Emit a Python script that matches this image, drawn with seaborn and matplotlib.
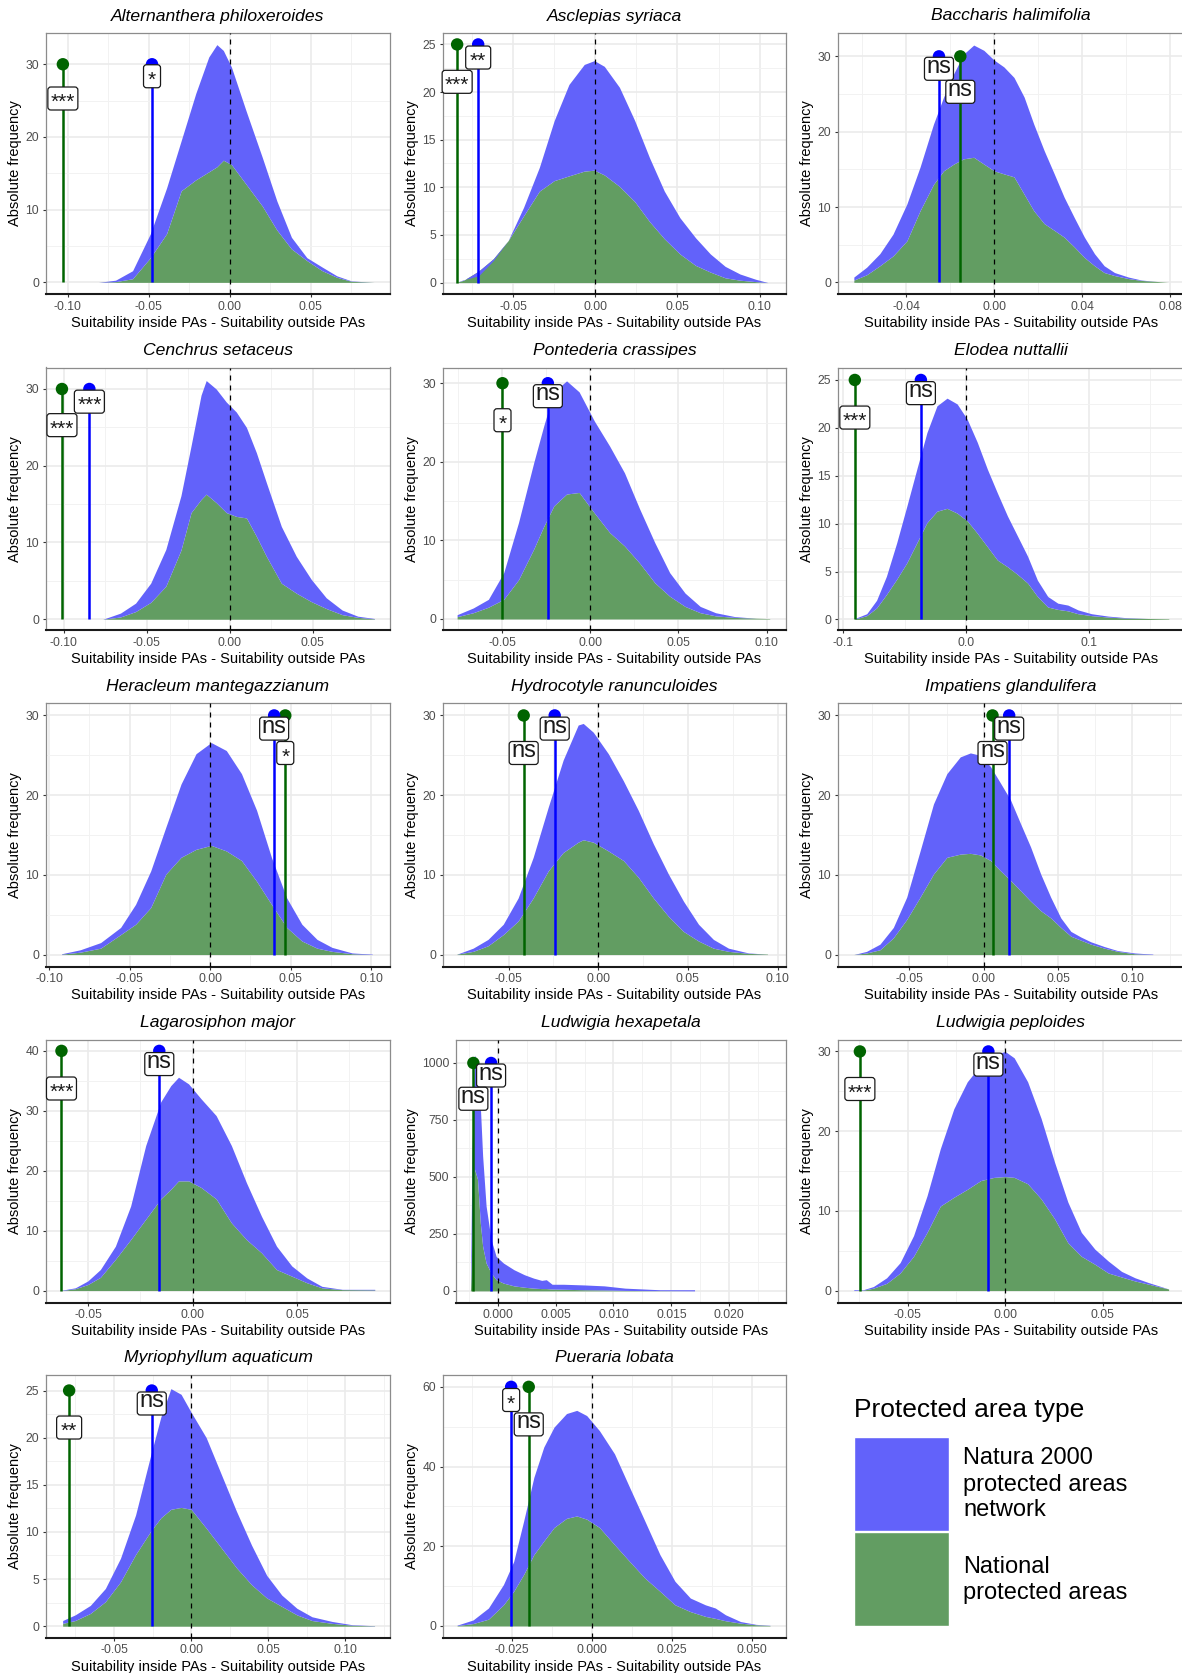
import numpy as np
import pandas as pd
import matplotlib
matplotlib.use("Agg")
import matplotlib.pyplot as plt
import seaborn as sns
from matplotlib.patches import FancyBboxPatch, Rectangle
from matplotlib.transforms import IdentityTransform
from matplotlib.ticker import FixedLocator, MultipleLocator

# ---------------- data ----------------
species = ["Alternanthera philoxeroides", "Asclepias syriaca", "Baccharis halimifolia",
           "Cenchrus setaceus", "Pontederia crassipes", "Elodea nuttallii",
           "Heracleum mantegazzianum", "Hydrocotyle ranunculoides", "Impatiens glandulifera",
           "Lagarosiphon major", "Ludwigia hexapetala", "Ludwigia peploides",
           "Myriophyllum aquaticum", "Pueraria lobata"]

alt_x = [-0.081, -0.0705, -0.060, -0.049, -0.039, -0.030, -0.021, -0.013, -0.008, -0.004, 0.001,
         0.010, 0.020, 0.029, 0.038, 0.0475, 0.057, 0.066, 0.075, 0.089]
alt_total = [0, 0.3, 1.6, 6.7, 13, 19.5, 26, 31, 32.7, 31.9, 29.6, 23.6, 17.2, 11.2, 6.2, 3.4, 2.1, 0.9, 0.2, 0]
alt_nat = [0, 0.1, 0.5, 3.4, 6.7, 12.6, 14.1, 15.2, 15.9, 16.8, 16.2, 13.5, 10.5, 7.2, 4.6, 3.0, 1.6, 0.7, 0.15, 0]

asc_x = [-0.085, -0.080, -0.071, -0.062, -0.053, -0.0436, -0.034, -0.025, -0.016, -0.0067, -0.0006, 0.0055,
         0.0147, 0.024, 0.033, 0.042, 0.0515, 0.061, 0.070, 0.079, 0.088, 0.0975, 0.105]
asc_total = [0, 0.3, 0.7, 2.3, 4.4, 7.9, 12.1, 17, 20.8, 22.9, 23.3, 22.7, 20.5, 17, 13.1, 9.6, 6.8, 4.7, 3,
             1.7, 0.9, 0.35, 0]
asc_nat = [0, 0.25, 1.2, 2.5, 4.4, 7.0, 9.6, 10.7, 11.2, 11.7, 11.8, 11.3, 10.1, 8.5, 6.4, 4.6, 3.0, 1.8, 1.1,
           0.5, 0.25, 0.1, 0]

bac_x = [-0.0638, -0.058, -0.052, -0.046, -0.0397, -0.0337, -0.0276, -0.023, -0.0184, -0.0139, -0.0093, -0.0047,
         0.0, 0.0044, 0.009, 0.0136, 0.018, 0.0227, 0.0273, 0.0318, 0.0364, 0.041, 0.0456, 0.050, 0.0547, 0.061,
         0.067, 0.0745, 0.079]
bac_total = [0.7, 2, 3.8, 6.4, 10.4, 15.3, 21, 24.6, 27.7, 30.3, 31.5, 30.8, 29.5, 28.6, 27.2, 24.6, 21, 17.5,
             14.4, 11.3, 8.6, 6.0, 3.8, 2.2, 1.3, 0.7, 0.3, 0.1, 0]
bac_nat = [0.3, 1, 2.2, 3.5, 5.5, 9.5, 13, 14.8, 15.7, 16.4, 16.6, 15.7, 14.8, 14.4, 14, 11.7, 9.5, 7.8, 6.9,
           6, 4.7, 3.3, 2.2, 1.3, 0.9, 0.5, 0.25, 0.1, 0]

cen_x = [-0.0764, -0.0658, -0.0567, -0.0476, -0.0385, -0.0294, -0.0233, -0.0173, -0.0142, -0.0082, -0.0021,
         0.0039, 0.01, 0.016, 0.022, 0.031, 0.040, 0.049, 0.058, 0.0676, 0.077, 0.087]
cen_total = [0, 0.8, 2.1, 4.7, 9.1, 16.1, 22.6, 29.2, 31.1, 30, 28.3, 27, 25, 21.7, 17.8, 12.1, 8.2, 5.2, 2.8,
             1.2, 0.4, 0.1]
cen_nat = [0, 0.3, 1, 2.2, 4.3, 9, 13.9, 15.6, 16.3, 15.2, 13.9, 13.4, 13.2, 10.8, 8.2, 4.7, 3.4, 2.3, 1.4,
           0.6, 0.25, 0.05]

pon_x = [-0.0754, -0.0663, -0.0577, -0.049, -0.0406, -0.032, -0.0263, -0.0206, -0.0134, -0.0063, 0.0023, 0.011,
         0.0194, 0.028, 0.0366, 0.045, 0.0537, 0.0623, 0.071, 0.082, 0.094, 0.1017]
pon_total = [0.55, 1.4, 2.5, 5.9, 12.3, 19.9, 24.6, 28.9, 30.3, 28.9, 25.2, 22, 18.6, 14, 9.7, 5.9, 3.3, 1.6,
             0.8, 0.3, 0.1, 0.05]
pon_nat = [0.3, 0.8, 1.5, 2.5, 5, 8.9, 11.8, 14.4, 15.9, 16.1, 13.5, 11, 9.3, 7.1, 4.6, 2.9, 1.6, 0.8, 0.4,
           0.2, 0.1, 0.05]

elo_x = [-0.0907, -0.081, -0.073, -0.065, -0.0566, -0.0484, -0.0402, -0.032, -0.0238, -0.0156, -0.0074, 0.0008,
         0.009, 0.0172, 0.0254, 0.0336, 0.0418, 0.05, 0.058, 0.0664, 0.0746, 0.0828, 0.091, 0.102, 0.1156, 0.129,
         0.148, 0.165]
elo_total = [0.1, 0.6, 2, 4.5, 8, 11.8, 15.7, 19.5, 22.3, 23.1, 22.5, 20.9, 18.5, 15.7, 13.2, 10.8, 8.7, 6.6,
             4.1, 2.4, 1.7, 1.5, 1.0, 0.6, 0.35, 0.2, 0.1, 0.05]
elo_nat = [0.05, 0.4, 1.2, 2.6, 4.2, 5.9, 8, 10.1, 11.3, 11.6, 11.1, 10.3, 9, 7.6, 6.2, 5.5, 4.7, 3.8, 2.4,
           1.3, 1.05, 0.9, 0.6, 0.4, 0.25, 0.15, 0.1, 0.05]

her_x = [-0.0922, -0.0806, -0.068, -0.0556, -0.0463, -0.0369, -0.0275, -0.0181, -0.0088, 0.0006, 0.01, 0.0194,
         0.0288, 0.038, 0.0475, 0.0569, 0.0663, 0.0756, 0.0881, 0.1006]
her_total = [0.1, 0.6, 1.5, 3.4, 6.3, 10.5, 16, 21.4, 25.2, 26.6, 25.6, 22.7, 18.1, 12.2, 7.1, 3.8, 1.9, 0.9,
             0.2, 0.05]
her_nat = [0.05, 0.3, 0.8, 2.5, 3.8, 5.9, 10.1, 12.2, 13.2, 13.7, 13, 11.8, 9.2, 6.3, 3.4, 1.7, 0.8, 0.4, 0.1, 0]

hyd_x = [-0.0788, -0.0698, -0.0615, -0.053, -0.0447, -0.0363, -0.0279, -0.0196, -0.0112, -0.0084, -0.0028,
         0.0056, 0.014, 0.0223, 0.0307, 0.0391, 0.0475, 0.0559, 0.0642, 0.0726, 0.0838, 0.0944]
hyd_total = [0.05, 0.8, 1.9, 3.8, 7.1, 12.2, 18.5, 24.4, 28.8, 29, 27.9, 25.2, 21.8, 18.1, 13.9, 10.1, 6.7,
             3.8, 1.9, 0.8, 0.2, 0.05]
hyd_nat = [0.05, 0.4, 1.1, 2.5, 4.2, 7.1, 10.5, 12.8, 14.1, 14.4, 14.1, 13, 11.8, 9.7, 7.1, 4.8, 2.9, 1.7,
           0.8, 0.4, 0.15, 0.05]

imp_x = [-0.0874, -0.0788, -0.0698, -0.0608, -0.0518, -0.0428, -0.0338, -0.0248, -0.0158, -0.009, -0.0023,
         0.0045, 0.0113, 0.018, 0.0248, 0.0315, 0.0383, 0.045, 0.0518, 0.0586, 0.0653, 0.072, 0.0811, 0.09,
         0.1014, 0.1137]
imp_total = [0, 0.4, 1.3, 3.4, 7.2, 13, 18.9, 22.7, 24.8, 25.3, 25, 23.6, 21.5, 19.4, 16.4, 13.5, 10.1, 7.2,
             4.6, 2.9, 2.2, 1.6, 1.0, 0.5, 0.2, 0.05]
imp_nat = [0, 0.2, 0.6, 2.1, 4.4, 7.2, 10.1, 12.2, 12.6, 12.7, 12.5, 11.8, 10.5, 9.3, 8, 6.7, 5.5, 4.6, 3.4,
           2.3, 1.8, 1.3, 0.8, 0.4, 0.1, 0]

lag_x = [-0.0627, -0.0561, -0.0501, -0.0441, -0.0369, -0.0296, -0.0224, -0.0152, -0.0104, -0.0067, -0.0019,
         0.0041, 0.0113, 0.0186, 0.0258, 0.033, 0.0402, 0.0475, 0.0547, 0.0619, 0.0716, 0.0872]
lag_total = [0.05, 0.45, 1.6, 3.5, 7.4, 14.1, 24.2, 31.5, 34.2, 35.6, 34.5, 32, 29.2, 24.2, 18, 12.4, 7.4, 4.1,
             2.1, 0.7, 0.2, 0.2]
lag_nat = [0, 0.3, 1, 2.2, 5.2, 8.5, 11.9, 15.3, 16.9, 18.3, 18.3, 17.2, 15.3, 11.3, 8.5, 6.3, 3.5, 2.4, 1.3,
           0.45, 0.15, 0.1]

hex_x = [-0.00235, -0.00222, -0.0020, -0.00174, -0.0015, -0.0013, -0.0010, -0.00057, -0.00013, 0.0005, 0.0014,
         0.0023, 0.0031, 0.0038, 0.0042, 0.0047, 0.0057, 0.0075, 0.0092, 0.011, 0.0131, 0.014, 0.017]
hex_total = [0, 607, 1034, 1004, 813, 593, 372, 225, 151, 122, 93, 71, 56, 46, 49, 29, 29, 26, 22, 12, 7, 5, 5]
hex_nat = [0, 225, 534, 490, 298, 196, 122, 78, 49, 34, 22, 16, 12, 10, 10, 8, 7, 5, 4, 2, 1, 1, 0]

pep_x = [-0.0775, -0.0727, -0.0675, -0.0607, -0.0538, -0.0469, -0.04, -0.0332, -0.0263, -0.0194, -0.0125,
         -0.0057, 0.0, 0.0046, 0.0115, 0.0184, 0.0253, 0.0321, 0.039, 0.0459, 0.0528, 0.0596, 0.0665, 0.0734,
         0.0837]
pep_total = [0.1, 0.1, 0.5, 1.6, 3.5, 6.9, 11.9, 17.8, 22.8, 26.2, 28.3, 29.6, 30, 29.2, 26.2, 21.6, 16.1,
             11.1, 7.3, 5.2, 3.7, 2.4, 1.6, 1.0, 0.2]
pep_nat = [0, 0.05, 0.3, 0.9, 2.2, 4.3, 7.3, 10.6, 11.7, 12.7, 13.8, 14.2, 14.3, 14.2, 13.4, 11.5, 9, 6, 4.3,
           3.3, 2.2, 1.7, 1.2, 0.8, 0.2]

myr_x = [-0.0833, -0.0752, -0.0654, -0.0556, -0.0458, -0.036, -0.0261, -0.0196, -0.0131, -0.0065, 0.0, 0.0098,
         0.0196, 0.0294, 0.0392, 0.049, 0.0588, 0.0686, 0.0784, 0.0915, 0.1046, 0.119]
myr_total = [0.6, 1.2, 2.2, 4, 7.2, 11.8, 18.2, 22.2, 25.2, 24.6, 22.7, 20, 16.1, 12.2, 8.6, 5.4, 3.3, 1.9,
             1.0, 0.5, 0.15, 0.05]
myr_nat = [0.3, 0.6, 1.35, 2.6, 4.7, 7.6, 10.1, 11.5, 12.4, 12.6, 12.4, 10.4, 8.3, 6.2, 4.4, 3.0, 2.1, 1.2,
           0.6, 0.3, 0.1, 0.03]

pue_x = [-0.0421, -0.0371, -0.0323, -0.0276, -0.0244, -0.0213, -0.0181, -0.015, -0.0118, -0.0079, -0.0047,
         -0.0016, 0.0024, 0.0071, 0.0118, 0.0166, 0.0213, 0.026, 0.0308, 0.0355, 0.0386, 0.0418, 0.0465, 0.0513,
         0.0557]
pue_total = [0.2, 1.5, 4.5, 10.4, 16.2, 26.3, 37.3, 44.9, 49.9, 53.3, 54.1, 52.8, 49, 43.2, 34.8, 26.3, 17.9,
             11.2, 7, 5.3, 4.5, 2.8, 1.1, 0.4, 0.15]
pue_nat = [0.1, 0.6, 1.7, 5.3, 8.7, 12.9, 17.9, 21.3, 24.7, 27, 27.6, 26.8, 24.7, 20.4, 16.2, 12, 8.7, 5.3, 3.6,
           2.4, 1.9, 1.3, 0.7, 0.3, 0.1]

# observed differences (lollipops) and significance
national_obs = [-0.103, -0.084, -0.0154, -0.101, -0.0497, -0.0907, 0.0466, -0.0416, 0.0059, -0.0627,
                -0.0021, -0.0744, -0.0791, -0.0197]
natura_obs = [-0.048, -0.0712, -0.0251, -0.0845, -0.024, -0.0369, 0.0397, -0.0243, 0.0171, -0.0159,
              -0.00057, -0.0086, -0.0255, -0.0252]
stem_height = [30, 25, 30, 30, 30, 25, 30, 30, 30, 40, 1000, 30, 25, 60]
national_sig = ["***", "***", "ns", "***", "*", "***", "*", "ns", "ns", "***", "ns", "***", "**", "ns"]
natura_sig = ["*", "**", "ns", "***", "ns", "ns", "ns", "ns", "ns", "ns", "ns", "ns", "ns", "*"]

# axis ticks
xtick_values = [[-0.10, -0.05, 0.00, 0.05], [-0.05, 0.00, 0.05, 0.10], [-0.04, 0.00, 0.04, 0.08],
                [-0.10, -0.05, 0.00, 0.05], [-0.05, 0.00, 0.05, 0.10], [-0.1, 0.0, 0.1],
                [-0.10, -0.05, 0.00, 0.05, 0.10], [-0.05, 0.00, 0.05, 0.10], [-0.05, 0.00, 0.05, 0.10],
                [-0.05, 0.00, 0.05], [0.000, 0.005, 0.010, 0.015, 0.020], [-0.05, 0.00, 0.05],
                [-0.05, 0.00, 0.05, 0.10], [-0.025, 0.000, 0.025, 0.050]]
xtick_decimals = [2, 2, 2, 2, 2, 1, 2, 2, 2, 2, 3, 2, 2, 3]
ytick_step = [10, 5, 10, 10, 10, 5, 10, 10, 10, 10, 250, 10, 5, 20]

curves = [(alt_x, alt_total, alt_nat), (asc_x, asc_total, asc_nat), (bac_x, bac_total, bac_nat),
          (cen_x, cen_total, cen_nat), (pon_x, pon_total, pon_nat), (elo_x, elo_total, elo_nat),
          (her_x, her_total, her_nat), (hyd_x, hyd_total, hyd_nat), (imp_x, imp_total, imp_nat),
          (lag_x, lag_total, lag_nat), (hex_x, hex_total, hex_nat), (pep_x, pep_total, pep_nat),
          (myr_x, myr_total, myr_nat), (pue_x, pue_total, pue_nat)]

# ---------------- layout / style ----------------
xlims = [(-0.1134, 0.0988), (-0.0926, 0.116), (-0.071, 0.0872), (-0.1106, 0.0964), (-0.0834, 0.1109),
         (-0.1044, 0.179), (-0.1019, 0.1116), (-0.0866, 0.1047), (-0.098, 0.136), (-0.0701, 0.0945),
         (-0.0036, 0.0249), (-0.0856, 0.0926), (-0.0941, 0.129), (-0.0465, 0.0607)]
ylims = [(-1.6, 34.3), (-1.2, 26.2), (-1.55, 33.1), (-1.4, 32.8), (-1.4, 32.0), (-1.1, 26.3), (-1.5, 31.5),
         (-1.5, 31.5), (-1.5, 31.5), (-2.0, 41.9), (-51, 1103), (-1.5, 31.5), (-1.2, 26.7), (-2.9, 63.1)]

BLUE_FILL = "#6262FA"
GREEN_FILL = "#629D62"
BLUE_LINE = "#0000FF"
GREEN_LINE = "#006400"

sns.set_theme(style="whitegrid")
plt.rcParams['font.family'] = ['Liberation Sans', 'DejaVu Sans']

W, H = 1182, 1673
fig = plt.figure(figsize=(W / 100, H / 100), dpi=100)
fig.patch.set_facecolor("white")

col_left = [46, 443, 838]
col_right = [390, 786, 1186]
row_top = [33, 367.5, 703.5, 1039.5, 1374.5]
row_bot = [294, 630, 966.5, 1302.5, 1637.5]

label_w = {"ns": 29, "***": 30, "**": 25, "*": 17}
LABEL_H = 23


def add_label(ax, x, y, text):
    px, py = ax.transData.transform((x, y))
    w = label_w[text]
    r = 3
    box = FancyBboxPatch((px - w / 2 + r, py - LABEL_H / 2 + r), w - 2 * r, LABEL_H - 2 * r,
                         boxstyle=f"round,pad={r}", transform=IdentityTransform(),
                         facecolor="white", edgecolor="#1a1a1a", linewidth=0.9, zorder=20)
    fig.add_artist(box)
    if "*" in text:
        fig.text(px, py - 4, text, transform=IdentityTransform(), ha="center", va="center",
                 fontsize=15, color="#1a1a1a", zorder=21)
    else:
        fig.text(px, py + 2, text, transform=IdentityTransform(), ha="center", va="center",
                 fontsize=17, color="#1a1a1a", zorder=21)


for i, name in enumerate(species):
    r, c = divmod(i, 3)
    left = col_left[c]
    if name == "Ludwigia hexapetala":
        left = 456
    right = col_right[c]
    top, bot = row_top[r], row_bot[r]
    ax = fig.add_axes([left / W, 1 - bot / H, (right - left) / W, (bot - top) / H])
    ax.set_facecolor("white")
    ax.set_xlim(*xlims[i])
    ax.set_ylim(*ylims[i])

    x, tot, nat = (np.asarray(a, dtype=float) for a in curves[i])
    ax.fill_between(x, 0, nat, color=GREEN_FILL, linewidth=0, zorder=2)
    ax.fill_between(x, nat, tot, color=BLUE_FILL, linewidth=0, zorder=2)

    ax.axvline(0, color="black", lw=0.9, ls=(0, (4, 4)), zorder=3)

    h = stem_height[i]
    ax.plot([national_obs[i]] * 2, [0, h], color=GREEN_LINE, lw=1.8, zorder=4, solid_capstyle="butt")
    ax.plot([natura_obs[i]] * 2, [0, h], color=BLUE_LINE, lw=1.8, zorder=4, solid_capstyle="butt")
    dots = pd.DataFrame({"x": [national_obs[i], natura_obs[i]], "y": [h, h],
                         "type": ["National", "Natura 2000"]})
    sns.scatterplot(data=dots, x="x", y="y", hue="type",
                    palette={"National": GREEN_LINE, "Natura 2000": BLUE_LINE},
                    s=80, linewidth=0, legend=False, ax=ax, zorder=5, clip_on=False)

    # ticks & grid
    xt = xtick_values[i]
    ax.xaxis.set_major_locator(FixedLocator(xt))
    ax.xaxis.set_minor_locator(MultipleLocator((xt[1] - xt[0]) / 2))
    ax.set_xticklabels([f"{v:.{xtick_decimals[i]}f}" for v in xt])
    st = ytick_step[i]
    yt = list(range(0, int(ylims[i][1] // st * st) + 1, st))
    ax.yaxis.set_major_locator(FixedLocator(yt))
    ax.yaxis.set_minor_locator(MultipleLocator(st / 2))
    ax.set_yticklabels([str(v) for v in yt])
    ax.grid(which="major", color="#EBEBEB", lw=1.2, zorder=0)
    ax.grid(which="minor", color="#F2F2F2", lw=0.7, zorder=0)
    ax.set_axisbelow(True)
    ax.tick_params(axis="both", which="major", labelsize=8.7, labelcolor="#4D4D4D",
                   color="#333333", length=2.5, width=0.8, pad=2.5, bottom=True, left=True)
    ax.tick_params(axis="both", which="minor", length=0)
    ax.set_xlabel("")
    ax.set_ylabel("")
    for sp in ["top", "left", "right"]:
        ax.spines[sp].set_color("#8C8C8C")
        ax.spines[sp].set_linewidth(0.9)
    ax.spines["bottom"].set_color("#1a1a1a")
    ax.spines["bottom"].set_linewidth(1.5)

    cx = (left + right) / 2 if c < 2 else (left + 1184) / 2
    fig.text(cx / W, 1 - (top - 17) / H, name, ha="center", va="center", fontsize=12.6,
             style="italic", color="black")
    fig.text(cx / W, 1 - (bot + 29) / H, "Suitability inside PAs - Suitability outside PAs",
             ha="center", va="center", fontsize=10.5, color="black")
    fig.text((col_left[c] - 31) / W, 1 - ((top + bot) / 2) / H, "Absolute frequency", rotation=90,
             ha="center", va="center", fontsize=10.5, color="black")

    add_label(ax, natura_obs[i], h * 0.945, natura_sig[i])
    add_label(ax, national_obs[i], h * 0.843, national_sig[i])

# ---------------- legend ----------------
legend_labels = [["Natura 2000", "protected areas", "network"], ["National", "protected areas"]]
fig.text(854 / W, 1 - 1410 / H, "Protected area type", ha="left", va="center", fontsize=19, color="black")
fig.add_artist(Rectangle((854, H - 1531), 95, 94, transform=IdentityTransform(),
                         facecolor=BLUE_FILL, edgecolor="white", lw=1))
fig.add_artist(Rectangle((854, H - 1626), 95, 94, transform=IdentityTransform(),
                         facecolor=GREEN_FILL, edgecolor="white", lw=1))
for yy, txt in zip([1458, 1485, 1510], legend_labels[0]):
    fig.text(963 / W, 1 - yy / H, txt, ha="left", va="center", fontsize=17, color="black")
for yy, txt in zip([1567, 1593], legend_labels[1]):
    fig.text(963 / W, 1 - yy / H, txt, ha="left", va="center", fontsize=17, color="black")

fig.savefig("out.png", dpi=100, facecolor="white")
